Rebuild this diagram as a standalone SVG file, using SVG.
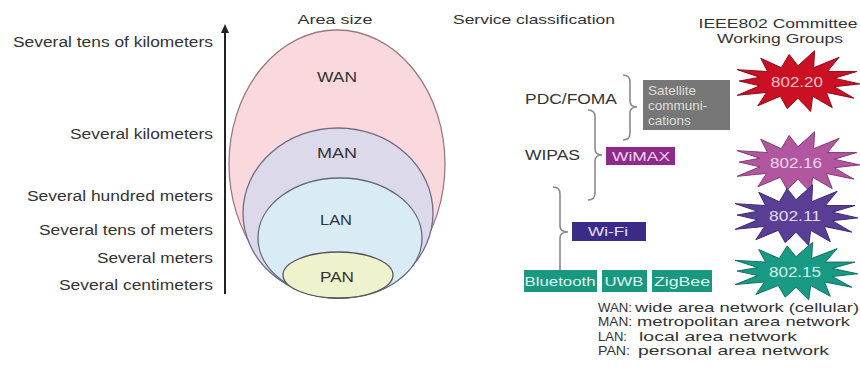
<svg xmlns="http://www.w3.org/2000/svg" width="860" height="374" viewBox="0 0 860 374">
<style>
text{font-family:"Liberation Sans",Arial,sans-serif;fill:#333}
.lbl{font-size:14px;text-anchor:end}
.hd{font-size:13.5px;text-anchor:middle}
.ell{font-size:14px;text-anchor:middle;fill:#333}
.brace{fill:none;stroke:#8a8a8a;stroke-width:1.6}
.boxt{font-size:13px;text-anchor:middle}
.bt{font-size:15px;text-anchor:middle}
.leg{font-size:13.5px}
</style>
<defs>
<polygon id="burst" points="64,2 38,5 58,17 30,11 36,27 16,15 14,31 1,17 -10,28 -17,15 -40,25 -31,11 -61,14 -38,4 -59,-1 -38,-5 -61,-13 -30,-11 -37,-25 -16,-15 -8,-29 1,-17 18,-33 17,-15 43,-26 31,-11 61,-11 38,-4"/>
</defs>

<!-- axis -->
<g id="axis">
<line x1="225" y1="294" x2="225" y2="31" stroke="#222" stroke-width="2"/>
<polygon points="221,33 225,24 229,33" fill="#222"/>
</g>

<!-- scale labels -->
<g id="scale-labels">
<text class="lbl" x="213" y="47" textLength="200" lengthAdjust="spacingAndGlyphs">Several tens of kilometers</text>
<text class="lbl" x="213" y="139" textLength="143" lengthAdjust="spacingAndGlyphs">Several kilometers</text>
<text class="lbl" x="213" y="201" textLength="186" lengthAdjust="spacingAndGlyphs">Several hundred meters</text>
<text class="lbl" x="213" y="235" textLength="174" lengthAdjust="spacingAndGlyphs">Several tens of meters</text>
<text class="lbl" x="213" y="263" textLength="116" lengthAdjust="spacingAndGlyphs">Several meters</text>
<text class="lbl" x="213" y="290" textLength="154" lengthAdjust="spacingAndGlyphs">Several centimeters</text>
</g>

<!-- headers -->
<g id="headers">
<text class="hd" x="335" y="24" textLength="75" lengthAdjust="spacingAndGlyphs">Area size</text>
<text class="hd" x="534" y="24" textLength="162" lengthAdjust="spacingAndGlyphs">Service classification</text>
<text class="hd" x="778" y="28" textLength="159" lengthAdjust="spacingAndGlyphs">IEEE802 Committee</text>
<text class="hd" x="780" y="43" textLength="126" lengthAdjust="spacingAndGlyphs">Working Groups</text>
</g>

<!-- area ellipses -->
<g id="wan">
<ellipse cx="337" cy="164" rx="108" ry="134" fill="#f9d9dd" stroke="#9a7a82" stroke-width="1.3"/>
<text class="ell" x="337" y="82" textLength="40" lengthAdjust="spacingAndGlyphs">WAN</text>
</g>
<g id="man">
<ellipse cx="338" cy="213" rx="95" ry="85" fill="#dcd9ea" stroke="#756a85" stroke-width="1.3"/>
<text class="ell" x="337" y="158" textLength="40" lengthAdjust="spacingAndGlyphs">MAN</text>
</g>
<g id="lan">
<ellipse cx="340" cy="238" rx="82" ry="60" fill="#d9ecf6" stroke="#5f6b78" stroke-width="1.3"/>
<text class="ell" x="336" y="225" textLength="32" lengthAdjust="spacingAndGlyphs">LAN</text>
</g>
<g id="pan">
<ellipse cx="338" cy="275" rx="55" ry="23" fill="#eef2cd" stroke="#555" stroke-width="1.3"/>
<text class="ell" x="337" y="282" textLength="34" lengthAdjust="spacingAndGlyphs">PAN</text>
</g>

<!-- services -->
<g id="pdc-foma"><text x="525" y="104" style="font-size:14px" textLength="92" lengthAdjust="spacingAndGlyphs">PDC/FOMA</text></g>
<g id="wipas"><text x="525" y="160" style="font-size:14px" textLength="55" lengthAdjust="spacingAndGlyphs">WIPAS</text></g>

<g id="satellite">
<rect x="643" y="80" width="87" height="50" fill="#777"/>
<text x="648" y="95" style="font-size:13.5px;fill:#ddd">Satellite</text>
<text x="648" y="110" style="font-size:13.5px;fill:#ddd">communi-</text>
<text x="648" y="125" style="font-size:13.5px;fill:#ddd">cations</text>
</g>
<g id="wimax">
<rect x="606" y="147" width="69" height="18" fill="#8d2a8a"/>
<text class="boxt" x="641" y="161" style="fill:#f6d4f0" textLength="58" lengthAdjust="spacingAndGlyphs">WiMAX</text>
</g>
<g id="wifi">
<rect x="572" y="222" width="74" height="19" fill="#3b2b86"/>
<text class="boxt" x="608" y="236" style="fill:#e4e0f4" textLength="40" lengthAdjust="spacingAndGlyphs">Wi-Fi</text>
</g>
<g id="bluetooth">
<rect x="524" y="270" width="73" height="22" fill="#19977f"/>
<text class="boxt" x="560" y="286" style="fill:#dff4ee" textLength="71" lengthAdjust="spacingAndGlyphs">Bluetooth</text>
</g>
<g id="uwb">
<rect x="602" y="270" width="45" height="22" fill="#19977f"/>
<text class="boxt" x="624" y="286" style="fill:#dff4ee" textLength="39" lengthAdjust="spacingAndGlyphs">UWB</text>
</g>
<g id="zigbee">
<rect x="652" y="270" width="60" height="22" fill="#19977f"/>
<text class="boxt" x="682" y="286" style="fill:#dff4ee" textLength="56" lengthAdjust="spacingAndGlyphs">ZigBee</text>
</g>

<!-- connectors (braces) -->
<g id="connectors">
<path class="brace" d="M623,75 Q630,75 630,82 L630,101 Q630,107 637,107 Q630,107 630,113 L630,133 Q630,140 623,140"/>
<path class="brace" d="M588,110 Q595,110 595,117 L595,149 Q595,155 602,155 Q595,155 595,161 L595,193 Q595,200 588,200"/>
<path class="brace" d="M553,187 Q560,187 560,194 L560,226 Q560,232 568,232 Q560,232 560,238 L560,270"/>
</g>

<!-- IEEE working groups -->
<g id="wg-802-20">
<use href="#burst" transform="translate(797,82) scale(0.98,0.95)" fill="#cc1024" stroke="#8a0a18" stroke-width="1"/>
<text class="bt" x="797" y="87" style="fill:#f8c4c8" textLength="52" lengthAdjust="spacingAndGlyphs">802.20</text>
</g>
<g id="wg-802-16">
<use href="#burst" transform="translate(797,163) scale(0.98,0.95)" fill="#b2579f" stroke="#7d3a72" stroke-width="1"/>
<text class="bt" x="796" y="168" style="fill:#f2d6ee" textLength="52" lengthAdjust="spacingAndGlyphs">802.16</text>
</g>
<g id="wg-802-11">
<use href="#burst" transform="translate(795,216) scale(0.98,0.95)" fill="#5a3e95" stroke="#3a2870" stroke-width="1"/>
<text class="bt" x="795" y="221" style="fill:#e2dcf2" textLength="52" lengthAdjust="spacingAndGlyphs">802.11</text>
</g>
<g id="wg-802-15">
<use href="#burst" transform="translate(795,272) scale(0.98,0.9)" fill="#199a85" stroke="#0e6a5a" stroke-width="1"/>
<text class="bt" x="795" y="277" style="fill:#d6f2ea" textLength="52" lengthAdjust="spacingAndGlyphs">802.15</text>
</g>

<!-- legend -->
<g id="legend">
<text class="leg" x="598" y="312" textLength="34" lengthAdjust="spacingAndGlyphs">WAN:</text><text class="leg" x="635" y="312" textLength="224" lengthAdjust="spacingAndGlyphs">wide area network (cellular)</text>
<text class="leg" x="598" y="326" textLength="34" lengthAdjust="spacingAndGlyphs">MAN:</text><text class="leg" x="637" y="326" textLength="213" lengthAdjust="spacingAndGlyphs">metropolitan area network</text>
<text class="leg" x="598" y="341" textLength="29" lengthAdjust="spacingAndGlyphs">LAN:</text><text class="leg" x="639" y="341" textLength="158" lengthAdjust="spacingAndGlyphs">local area network</text>
<text class="leg" x="598" y="355" textLength="32" lengthAdjust="spacingAndGlyphs">PAN:</text><text class="leg" x="638" y="355" textLength="191" lengthAdjust="spacingAndGlyphs">personal area network</text>
</g>
</svg>
